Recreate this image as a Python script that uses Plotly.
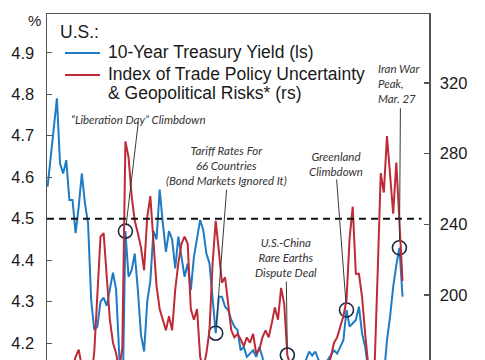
import plotly.graph_objects as go
import pandas as pd

# ---------------- data ----------------
START_DATE = "2024-12-28"
STEP = "4D"

yield_10y = [
    4.577, 4.649, 4.714, 4.790, 4.633, 4.609, 4.641, 4.545, 4.545, 4.465,
    4.529, 4.609, 4.537, 4.489, 4.304, 4.232, 4.240, 4.300, 4.310, 4.290,
    4.330, 4.370, 4.330, 4.200, 4.020, 4.470, 4.360, 4.376, 4.416, 4.328,
    4.220, 4.180, 4.300, 4.350, 4.470, 4.450, 4.570, 4.490, 4.420, 4.470,
    4.450, 4.380, 4.457, 4.408, 4.360, 4.392, 4.328, 4.408, 4.457, 4.497,
    4.473, 4.416, 4.392, 4.304, 4.224, 4.312, 4.312, 4.288, 4.280, 4.256,
    4.240, 4.232, 4.183, 4.191, 4.167, 4.175, 4.183, 4.167, 4.191, 4.167,
    4.120, 4.100, 4.080, 4.060, 4.050, 4.020, 4.000, 4.030, 4.080, 4.100,
    4.120, 4.140, 4.130, 4.160, 4.180, 4.170, 4.180, 4.160, 4.150, 4.140,
    4.160, 4.170, 4.183, 4.175, 4.191, 4.207, 4.280, 4.240, 4.248, 4.256,
    4.288, 4.224, 4.191, 4.120, 4.080, 4.020, 4.000, 4.050, 4.120, 4.207,
    4.264, 4.336, 4.388, 4.430, 4.312,
]

trade_geo_index = [
    145, 150, 148, 152, 155, 150, 148, 152, 158, 165,
    169, 160, 150, 148, 152, 168, 199, 233, 235, 210,
    186, 173, 167, 158, 170, 287, 278, 256, 242, 235,
    227, 214, 244, 256, 227, 205, 192, 186, 180, 188,
    180, 203, 218, 229, 233, 229, 192, 186, 192, 165,
    158, 167, 180, 218, 242, 225, 207, 210, 195, 180,
    176, 178, 175, 171, 176, 173, 178, 167, 169, 176,
    180, 176, 184, 193, 186, 204, 195, 166, 160, 155,
    158, 155, 150, 155, 158, 152, 156, 160, 158, 162,
    160, 165, 173, 176, 182, 188, 197, 232, 250, 212,
    212, 199, 178, 160, 150, 158, 212, 269, 258, 290,
    268, 246, 275, 239, 208,
]

THRESHOLD = 4.5
LEFT_TICKS = [4.2, 4.3, 4.4, 4.5, 4.6, 4.7, 4.8, 4.9]
RIGHT_TICKS = [200, 240, 280, 320]

# events: (index into series, which series, pointer offset)
EVENTS = [
    (25, "yield", (13, -110)),
    (54, "yield", (11, -145)),
    (77, "index", (-1, -75)),
    (96, "yield", (-10, -132)),
    (113, "yield", (1, -141)),
]

dates = pd.date_range(START_DATE, periods=len(yield_10y), freq=STEP)

BLUE = "#1f7bc3"
RED = "#bd2b36"
AXIS = "#555555"
TXT = "#1a1a1a"
NOTE = "#333333"

fig = go.Figure()
fig.add_trace(go.Scatter(x=dates, y=yield_10y, mode="lines",
                         line=dict(color=BLUE, width=2), yaxis="y",
                         showlegend=False, hoverinfo="skip"))
fig.add_trace(go.Scatter(x=dates, y=trade_geo_index, mode="lines",
                         line=dict(color=RED, width=2), yaxis="y2",
                         showlegend=False, hoverinfo="skip"))

for idx, ser, _ in EVENTS:
    yv = yield_10y[idx] if ser == "yield" else trade_geo_index[idx]
    fig.add_trace(go.Scatter(x=[dates[idx]], y=[yv], mode="markers",
                             yaxis="y" if ser == "yield" else "y2",
                             marker=dict(symbol="circle-open", size=14,
                                         color="#1d2742", line=dict(width=1.6)),
                             showlegend=False, hoverinfo="skip"))

anns = []
for idx, ser, (ax, ay) in EVENTS:
    yv = yield_10y[idx] if ser == "yield" else trade_geo_index[idx]
    anns.append(dict(x=dates[idx], y=yv, xref="x",
                     yref="y" if ser == "yield" else "y2",
                     text="", showarrow=True, arrowhead=0, arrowwidth=1,
                     arrowcolor="#3a3a3a", ax=ax, ay=ay, standoff=7))

W, H = 485, 360
L, R, T, B = 47, 56, 14, 0
PW, PH = W - L - R, H - T - B


def px(x):
    return (x - L) / PW


def py(y):
    return (H - B - y) / PH


NFONT = dict(family="Lato, Open Sans, sans-serif", size=11.5, color=NOTE)


def note(text, x, y, xanchor="center", align="center"):
    anns.append(dict(text=text, x=px(x), y=py(y), xref="paper", yref="paper",
                     showarrow=False, xanchor=xanchor, yanchor="middle",
                     align=align, font=NFONT))


note("<i>“Liberation Day” Climbdown</i>", 138.5, 119)
note("<i>Tariff Rates For<br>66 Countries<br>(Bond Markets Ignored It)</i>", 226.5, 165)
note("<i>Greenland<br>Climbdown</i>", 336, 164)
note("<i>U.S.-China<br>Rare Earths<br>Dispute Deal</i>", 286, 257)
note("<i>Iran War<br>Peak,<br>Mar. 27</i>", 376, 83, xanchor="left", align="left")

MFONT = dict(family="Liberation Sans, Arial, sans-serif", size=17.5, color=TXT)


def label(text, x, y, size=17.5, xanchor="left"):
    f = dict(MFONT)
    f["size"] = size
    anns.append(dict(text=text, x=px(x), y=py(y), xref="paper", yref="paper",
                     showarrow=False, xanchor=xanchor, yanchor="middle", font=f))


label("U.S.:", 58, 32)
label("10-Year Treasury Yield (ls)", 106, 52.5)
label("Index of Trade Policy Uncertainty", 106, 74)
label("& Geopolitical Risks* (rs)", 106, 93)
label("%", 34, 20, size=15, xanchor="center")

shapes = [
    dict(type="line", xref="paper", yref="paper", x0=px(65), x1=px(100),
         y0=py(53), y1=py(53), line=dict(color=BLUE, width=2)),
    dict(type="line", xref="paper", yref="paper", x0=px(65), x1=px(100),
         y0=py(75), y1=py(75), line=dict(color=RED, width=2)),
    dict(type="line", xref="paper", yref="y", x0=0, x1=px(421.5),
         y0=THRESHOLD, y1=THRESHOLD,
         line=dict(color="#111111", width=2, dash="7px,5px")),
]

fig.update_layout(
    width=W, height=H,
    margin=dict(l=L, r=R, t=T, b=B, pad=0),
    paper_bgcolor="white", plot_bgcolor="white",
    annotations=anns, shapes=shapes, showlegend=False,
    xaxis=dict(type="date", range=["2024-12-27 06:00", "2026-05-02"],
               side="top", showline=True, linecolor=AXIS, linewidth=1.5,
               ticks="", showticklabels=False, showgrid=False, zeroline=False),
    yaxis=dict(range=[4.1595, 4.9933], tickvals=LEFT_TICKS,
               ticktext=[f"{v:.1f}" for v in LEFT_TICKS],
               ticks="inside", ticklen=5, tickwidth=1.2, tickcolor=AXIS,
               showline=True, linecolor=AXIS, linewidth=1.5,
               showgrid=False, zeroline=False, ticklabelstandoff=8,
               tickfont=dict(family="Liberation Sans, Arial, sans-serif",
                             size=16.5, color=TXT)),
    yaxis2=dict(range=[163.2, 359.1], tickvals=RIGHT_TICKS, overlaying="y",
                side="right", ticks="inside", ticklen=5, tickwidth=1.2,
                tickcolor=AXIS, showline=True, linecolor=AXIS, linewidth=1.5,
                showgrid=False, zeroline=False, ticklabelstandoff=6,
                tickfont=dict(family="Liberation Sans, Arial, sans-serif",
                              size=16.5, color=TXT)),
)

fig.write_html(
    "out.html",
    config={"displayModeBar": False, "staticPlot": True},
    post_script="document.body.style.margin='0';document.body.style.overflow='hidden';",
)
